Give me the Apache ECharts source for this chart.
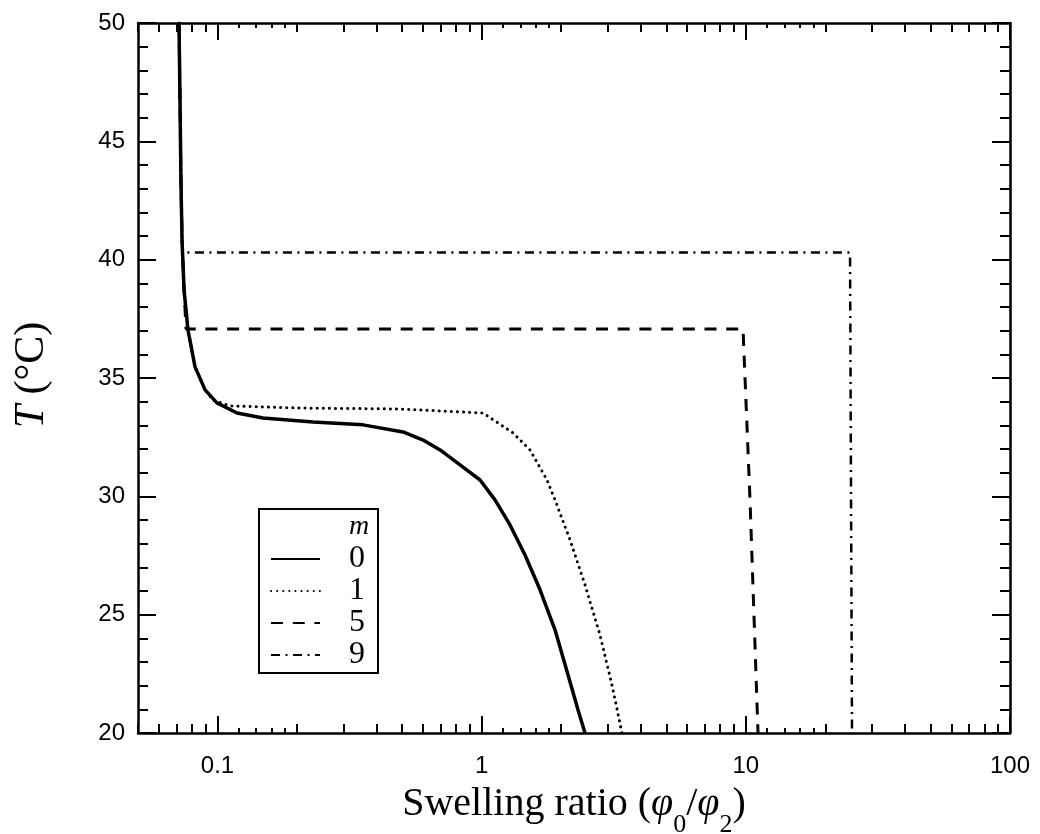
<!DOCTYPE html>
<html><head><meta charset="utf-8">
<script src="https://cdn.jsdelivr.net/npm/echarts@6/dist/echarts.min.js"></script>
<style>html,body{margin:0;padding:0;background:#fff}#c{width:1040px;height:834px}</style>
</head><body><div id="c"></div>
<script>
// ---- data ----
const xMajorTicks = [0.1, 1, 10, 100];
const xMidTicks = [0.05,0.06,0.07,0.08,0.09,0.2,0.3,0.4,0.5,0.6,0.7,0.8,0.9,2,3,4,5,6,7,8,9,20,30,40,50,60,70,80,90];
const xSmallTicks = [0.12,0.14,0.16,0.18,1.2,1.4,1.6,1.8,12,14,16,18];
const legendNames = ['0', '1', '5', '9'];

const m0Ratio = [0.0715,0.0721,0.0727,0.0734,0.0747,0.0773,0.0822,0.0897,0.0995,0.1185,0.1487,0.2298,0.3554,0.504,0.600,0.696,0.828,0.986,1.123,1.280,1.459,1.663,1.895,2.122,2.315,2.461];
const m0T     = [50,46.75,43.37,40.83,38.72,37.03,35.47,34.50,33.95,33.52,33.31,33.14,33.02,32.72,32.38,31.96,31.33,30.69,29.85,28.79,27.52,26.05,24.36,22.46,20.98,20.00];

const m1Ratio = [0.0715,0.0721,0.0727,0.0734,0.0747,0.0773,0.0822,0.0897,0.0961,0.1115,0.2052,0.4906,1.012,1.314,1.524,1.767,1.895,2.160,2.461,2.805,3.113,3.398];
const m1T     = [50,46.75,43.37,40.83,38.72,37.03,35.47,34.50,34.07,33.82,33.73,33.69,33.52,32.68,31.96,30.69,29.85,28.16,26.26,24.14,22.03,20.00];

const m5Ratio = [0.0715,0.0721,0.0727,0.0734,0.0747,0.0760,9.757,10.37,11.12];
const m5T     = [50,46.75,43.37,40.83,38.72,37.07,37.07,29.85,20.00];

const m9Ratio = [0.0715,0.0721,0.0727,0.0734,0.0737,24.80,25.23];
const m9T     = [50,46.75,43.37,40.83,40.30,40.30,20.00];

// ---- helpers ----
const zip = (xs, ys) => xs.map((x, i) => [x, ys[i]]);
const SERIF = 'Liberation Serif';
const SANS = 'Liberation Sans';

function xAx(pos, ticks, len, line, labels) {
  return {
    type: 'log', logBase: 10, min: 0.05, max: 100, position: pos,
    axisLine: { show: line, lineStyle: { color: '#000', width: 2.5 } },
    axisTick: { show: true, inside: true, length: len, customValues: ticks,
      lineStyle: { color: '#000', width: 2 } },
    axisLabel: { show: labels, customValues: xMajorTicks, margin: 21,
      color: '#000', fontFamily: SANS, fontSize: 24,
      formatter: v => String(+v.toPrecision(3)) },
    splitLine: { show: false }, minorTick: { show: false }
  };
}
function yAx(pos, labels) {
  return {
    type: 'value', min: 20, max: 50, interval: 5, position: pos,
    axisLine: { show: true, lineStyle: { color: '#000', width: 2.5 } },
    axisTick: { show: true, inside: true, length: 18, lineStyle: { color: '#000', width: 2 } },
    minorTick: { show: true, splitNumber: 5, length: 10, lineStyle: { color: '#000', width: 2 } },
    axisLabel: { show: labels, margin: 13, color: '#000', fontFamily: SANS, fontSize: 24 },
    splitLine: { show: false }
  };
}

const xAxes = [
  xAx('bottom', xMajorTicks, 17, true, true),
  xAx('bottom', xMidTicks, 9, false, false),
  xAx('bottom', xSmallTicks, 5, false, false),
  xAx('top', xMajorTicks, 17, true, false),
  xAx('top', xMidTicks, 9, false, false),
  xAx('top', xSmallTicks, 5, false, false)
];
xAxes[0].name = '{n|Swelling ratio (}{p|\u03C6}{s|0}{n|/}{p|\u03C6}{s|2}{n|)}';
xAxes[0].nameLocation = 'middle';
xAxes[0].nameGap = 51;
xAxes[0].nameMoveOverlap = false;
xAxes[0].nameTextStyle = {
  color: '#000', fontFamily: SERIF, fontSize: 40,
  rich: {
    n: { fontFamily: SERIF, fontSize: 40, color: '#000', lineHeight: 54, verticalAlign: 'top' },
    p: { fontFamily: SERIF, fontSize: 40, color: '#000', fontStyle: 'italic', lineHeight: 54, verticalAlign: 'top' },
    s: { fontFamily: SERIF, fontSize: 26, color: '#000', lineHeight: 54, verticalAlign: 'bottom' }
  }
};
const yAxes = [yAx('left', true), yAx('right', false)];
yAxes[0].name = '{i|T} (\u00B0C)';
yAxes[0].nameLocation = 'middle';
yAxes[0].nameGap = 85;
yAxes[0].nameMoveOverlap = false;
yAxes[0].nameRotate = 90;
yAxes[0].nameTextStyle = {
  color: '#000', fontFamily: SERIF, fontSize: 42, padding: [0, 0, 0, 6],
  rich: { i: { fontFamily: SERIF, fontSize: 42, fontStyle: 'italic', color: '#000' } }
};

const series = [
  { name: legendNames[0], data: zip(m0Ratio, m0T), lineStyle: { width: 3.5, type: 'solid' } },
  { name: legendNames[1], data: zip(m1Ratio, m1T), lineStyle: { width: 3, type: [0.1, 6], cap: 'round' } },
  { name: legendNames[2], data: zip(m5Ratio, m5T), lineStyle: { width: 3, type: [12, 9.7] } },
  { name: legendNames[3], data: zip(m9Ratio, m9T), lineStyle: { width: 2.5, type: [9, 5.5, 2, 5.5] } }
].map(s => Object.assign({ type: 'line', symbol: 'none', smooth: false, xAxisIndex: 0, yAxisIndex: 0,
  color: '#000', animation: false }, s));

const chart = echarts.init(document.getElementById('c'), null, { renderer: 'canvas' });
chart.setOption({
  animation: false,
  backgroundColor: '#fff',
  grid: { left: 138, right: 30, top: 23, bottom: 101, containLabel: false, outerBoundsMode: 'none' },
  xAxis: xAxes,
  yAxis: yAxes,
  legend: {
    data: legendNames, orient: 'vertical', left: 259, top: 509,
    padding: [34, 13, 2, 11], itemGap: 0, itemWidth: 49, itemHeight: 20,
    borderColor: '#000', borderWidth: 2, borderRadius: 0,
    selectedMode: false,
    itemStyle: { opacity: 0, borderWidth: 0 },
    textStyle: { color: '#000', fontFamily: SERIF, fontSize: 32, padding: [0, 0, 0, 24] }
  },
  graphic: [{ type: 'text', x: 359, y: 527,
    style: { text: 'm', fill: '#000', font: 'italic 28px "Liberation Serif"', align: 'center', verticalAlign: 'middle' } }],
  series: series
});
</script>
</body></html>
